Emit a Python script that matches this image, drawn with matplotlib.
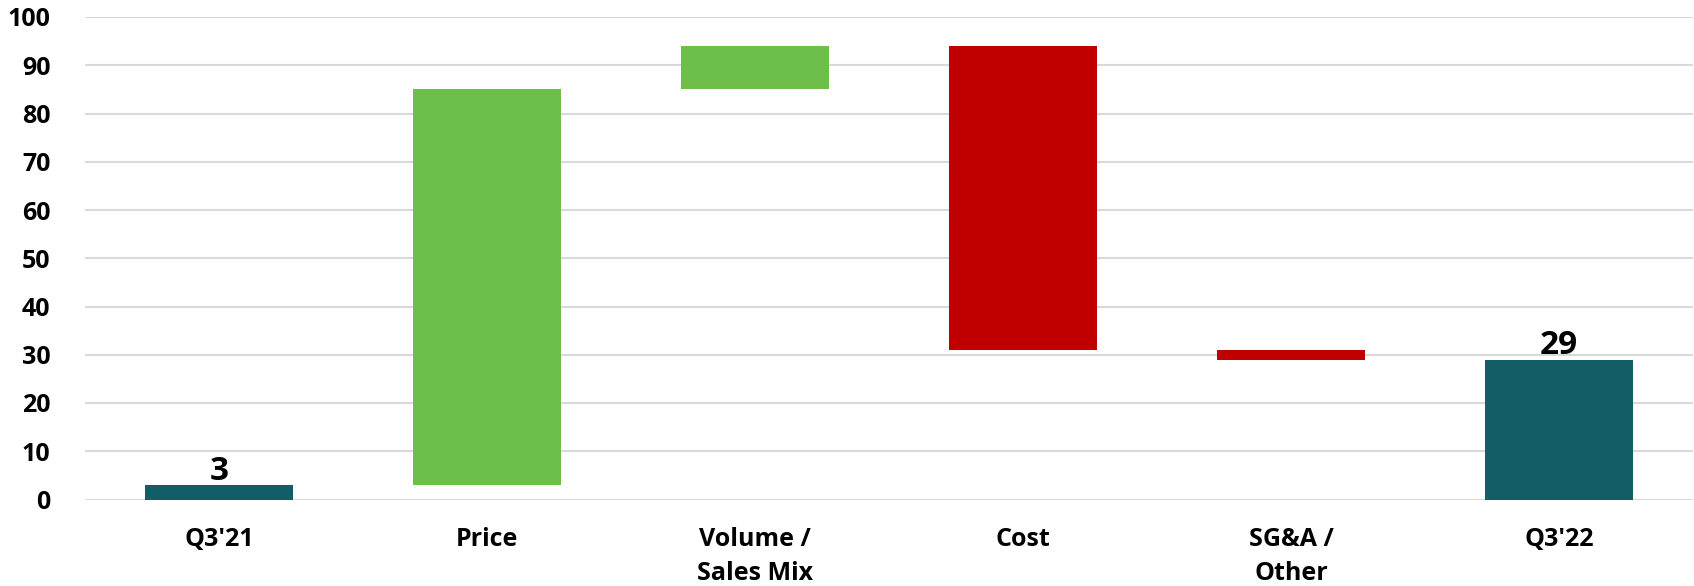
import matplotlib
matplotlib.use("Agg")
import matplotlib.pyplot as plt
import numpy as np

categories = ["Q3'21", "Price", "Volume /\nSales Mix", "Cost", "SG&A /\nOther", "Q3'22"]
changes = [3, 82, 9, -63, -2, 29]
kinds = ["total", "delta", "delta", "delta", "delta", "total"]
yticks = [0, 10, 20, 30, 40, 50, 60, 70, 80, 90, 100]

TEAL = "#135E66"
GREEN = "#6DBE4B"
RED = "#C00000"

plt.rcParams['font.family'] = ['Open Sans', 'DejaVu Sans']

fig = plt.figure(figsize=(16.94, 5.86), dpi=100)
ax = fig.add_axes([85/1694, 1-499.5/586, 1608/1694, (499.5-17)/586])

x = np.arange(len(categories))
bottoms, heights, colors = [], [], []
running = 0
for v, k in zip(changes, kinds):
    if k == "total":
        bottoms.append(0); heights.append(v); colors.append(TEAL)
        running = v
    else:
        if v >= 0:
            bottoms.append(running); heights.append(v); colors.append(GREEN)
        else:
            bottoms.append(running + v); heights.append(-v); colors.append(RED)
        running += v

ax.bar(x, heights, bottom=bottoms, width=0.555, color=colors, zorder=3)

for i, (v, k) in enumerate(zip(changes, kinds)):
    if k == "total":
        ax.text(x[i], v - 0.6, f"{v}", ha="center", va="bottom",
                fontsize=24, fontweight="bold", color="black", zorder=4)

ax.set_xlim(-0.5, len(categories) - 0.5)
ax.set_ylim(0, 100)
ax.set_yticks(yticks)
ax.set_xticks(x)
ax.set_xticklabels(categories, fontsize=18, fontweight="bold", linespacing=1.45)
ax.tick_params(axis='y', labelsize=18, length=0, pad=25)
for lbl in ax.get_yticklabels():
    lbl.set_fontweight("bold")
ax.tick_params(axis='x', length=0, pad=20)
ax.grid(axis='y', color="#D9D9D9", linewidth=1.5, zorder=0)
for s in ax.spines.values():
    s.set_visible(False)

fig.savefig("out.png", dpi=100)
